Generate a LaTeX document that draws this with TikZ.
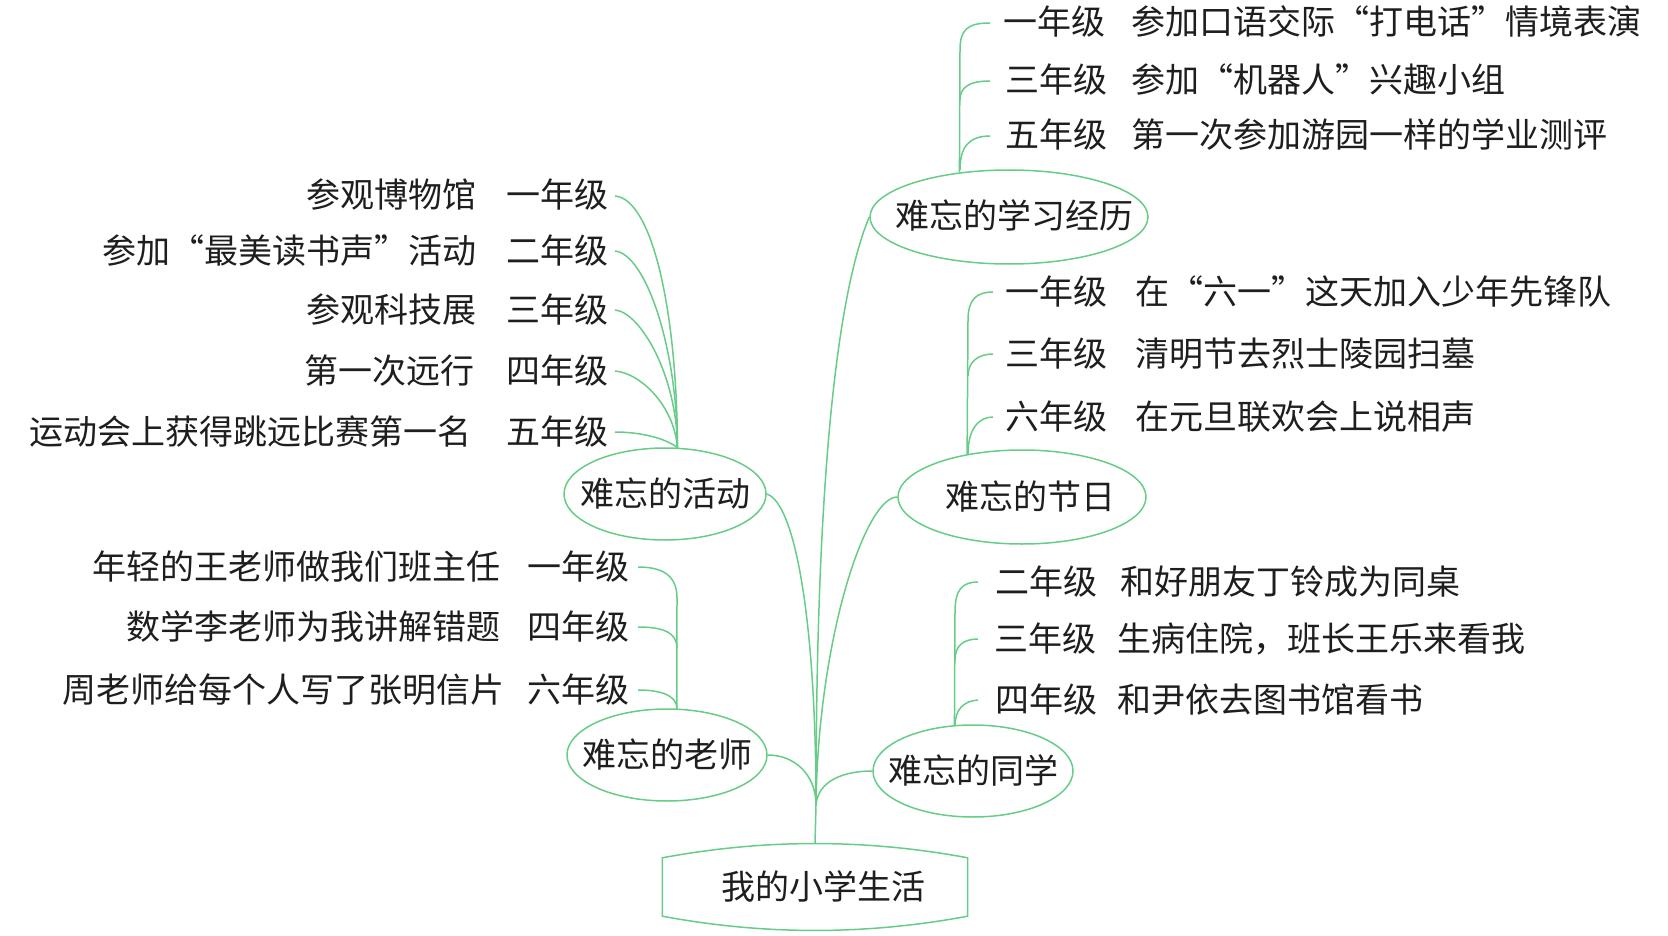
\documentclass[tikz,border=0pt]{standalone}
\usepackage{fontspec}
\setmainfont{Noto Sans CJK SC}
\usetikzlibrary{shapes.geometric}
\definecolor{lg}{RGB}{102,204,136}
\definecolor{ink}{RGB}{30,30,30}
\begin{document}
\begin{tikzpicture}[x=1pt,y=-1pt,
  conn/.style={draw=lg, line width=1.5pt},
  oval/.style={ellipse, draw=lg, line width=1.5pt, inner sep=0pt, text=ink,
    font=\fontsize{34pt}{40pt}\selectfont, text height=29pt, text depth=5pt},
  lbl/.style={inner sep=0pt, text=ink, font=\fontsize{34pt}{40pt}\selectfont,
    text height=29pt, text depth=5pt},
]
\useasboundingbox (0,0) rectangle (1668,936);

% root
\node[lbl, minimum width=305pt, minimum height=58pt] (root) at (815,887)
  {\makebox[0pt]{\hspace*{16pt}我的小学生活}};
\draw[conn] (root.north west) .. controls +(102,-19) and +(-102,-19) .. (root.north east)
  -- (root.south east) .. controls +(-102,19) and +(102,19) .. (root.south west) -- cycle;
\coordinate (J) at (816,805);
\draw[conn] ([yshift=14pt]root.north) -- (J);

% main ellipses
\node[oval, minimum width=278pt, minimum height=94pt] (xx) at (1009,217) {\makebox[0pt]{\hspace*{10pt}难忘的学习经历}};
\node[oval, minimum width=202pt, minimum height=92pt] (hd) at (665,494) {\makebox[0pt]{难忘的活动}};
\node[oval, minimum width=248pt, minimum height=94pt] (jr) at (1022,497) {\makebox[0pt]{\hspace*{16pt}难忘的节日}};
\node[oval, minimum width=200pt, minimum height=92pt] (tx) at (973,771) {\makebox[0pt]{难忘的同学}};
\node[oval, minimum width=200pt, minimum height=92pt] (ls) at (667,755) {\makebox[0pt]{难忘的老师}};

% main connectors
\draw[conn] (J) .. controls (816,420) and (845,275) .. (xx.west);
\draw[conn] (hd.east) .. controls (795,503) and (816,620) .. (J);
\draw[conn] (jr.west) .. controls (865,497) and (818,640) .. (J);
\draw[conn] (ls.east) .. controls (795,755) and (816,775) .. (J);
\draw[conn] (tx.west) .. controls (845,771) and (818,780) .. (J);

% study rows
\node[lbl, anchor=west] (xx1g) at (1003,23) {一年级};
\node[lbl, anchor=west] (xx1c) at (1131,23) {参加口语交际“打电话”情境表演};
\node[lbl, anchor=west] (xx2g) at (1005,81) {三年级};
\node[lbl, anchor=west] (xx2c) at (1131,81) {参加“机器人”兴趣小组};
\node[lbl, anchor=west] (xx3g) at (1005,136) {五年级};
\node[lbl, anchor=west] (xx3c) at (1131,136) {第一次参加游园一样的学业测评};
\draw[conn] ([xshift=-13pt]xx1g.west) .. controls (967,23) and (960,30) .. (960,50) -- (xx.138);
\draw[conn] ([xshift=-15pt]xx2g.west) .. controls (968,81) and (960,88) .. (960,100);
\draw[conn] ([xshift=-15pt]xx3g.west) .. controls (968,136) and (960,148) .. (960,170);

% festival rows
\node[lbl, anchor=west] (jr1g) at (1005,292) {一年级};
\node[lbl, anchor=west] (jr1c) at (1135,292) {在“六一”这天加入少年先锋队};
\node[lbl, anchor=west] (jr2g) at (1005,354) {三年级};
\node[lbl, anchor=west] (jr2c) at (1135,354) {清明节去烈士陵园扫墓};
\node[lbl, anchor=west] (jr3g) at (1005,417) {六年级};
\node[lbl, anchor=west] (jr3c) at (1135,417) {在元旦联欢会上说相声};
\draw[conn] ([xshift=-12pt]jr1g.west) .. controls (976,292) and (968,300) .. (968,320) -- (jr.142);
\draw[conn] ([xshift=-12pt]jr2g.west) .. controls (978,354) and (968,362) .. (968,376);
\draw[conn] ([xshift=-12pt]jr3g.west) .. controls (978,417) and (968,430) .. (968,454);

% classmates rows
\node[lbl, anchor=west] (tx1g) at (995,582) {二年级};
\node[lbl, anchor=west] (tx1c) at (1120,582) {和好朋友丁铃成为同桌};
\node[lbl, anchor=west] (tx2g) at (994,639) {三年级};
\node[lbl, anchor=west] (tx2c) at (1117,639) {生病住院，班长王乐来看我};
\node[lbl, anchor=west] (tx3g) at (995,700) {四年级};
\node[lbl, anchor=west] (tx3c) at (1117,700) {和尹依去图书馆看书};
\draw[conn] ([xshift=-17pt]tx1g.west) .. controls (962,582) and (955,590) .. (955,612) -- (tx.112);
\draw[conn] ([xshift=-16pt]tx2g.west) .. controls (963,639) and (955,646) .. (955,660);
\draw[conn] ([xshift=-17pt]tx3g.west) .. controls (963,701) and (955,710) .. (955,726);

% teacher rows
\node[lbl, anchor=east] (ls1g) at (630,567) {一年级};
\node[lbl, anchor=east] (ls1c) at (501,567) {年轻的王老师做我们班主任};
\node[lbl, anchor=east] (ls2g) at (630,627) {四年级};
\node[lbl, anchor=east] (ls2c) at (501,627) {数学李老师为我讲解错题};
\node[lbl, anchor=east] (ls3g) at (630,690) {六年级};
\node[lbl, anchor=east] (ls3c) at (505,690) {周老师给每个人写了张明信片};
\draw[conn] ([xshift=8pt]ls1g.east) .. controls (662,567) and (677,575) .. (677,598) -- (ls.78);
\draw[conn] ([xshift=8pt]ls2g.east) .. controls (662,627) and (677,632) .. (677,648);
\draw[conn] ([xshift=8pt]ls3g.east) .. controls (660,690) and (677,695) .. (677,709);

% activity rows
\node[lbl, anchor=east] (hd1g) at (609,196) {一年级};
\node[lbl, anchor=east] (hd1c) at (477,196) {参观博物馆};
\node[lbl, anchor=east] (hd2g) at (609,251) {二年级};
\node[lbl, anchor=east] (hd2c) at (477,251) {参加“最美读书声”活动};
\node[lbl, anchor=east] (hd3g) at (609,310) {三年级};
\node[lbl, anchor=east] (hd3c) at (477,310) {参观科技展};
\node[lbl, anchor=east] (hd4g) at (609,371) {四年级};
\node[lbl, anchor=east] (hd4c) at (475,371) {第一次远行};
\node[lbl, anchor=east] (hd5g) at (609,432) {五年级};
\node[lbl, anchor=east] (hd5c) at (472,432) {运动会上获得跳远比赛第一名};
\draw[conn] ([xshift=6pt]hd1g.east) .. controls (652,199) and (677,310) .. (hd.75);
\draw[conn] ([xshift=6pt]hd2g.east) .. controls (645,254) and (677,345) .. (hd.75);
\draw[conn] ([xshift=6pt]hd3g.east) .. controls (640,312) and (677,375) .. (hd.75);
\draw[conn] ([xshift=6pt]hd4g.east) .. controls (640,373) and (674,405) .. (hd.75);
\draw[conn] ([xshift=6pt]hd5g.east) .. controls (640,432) and (665,438) .. (hd.75);
\end{tikzpicture}
\end{document}
